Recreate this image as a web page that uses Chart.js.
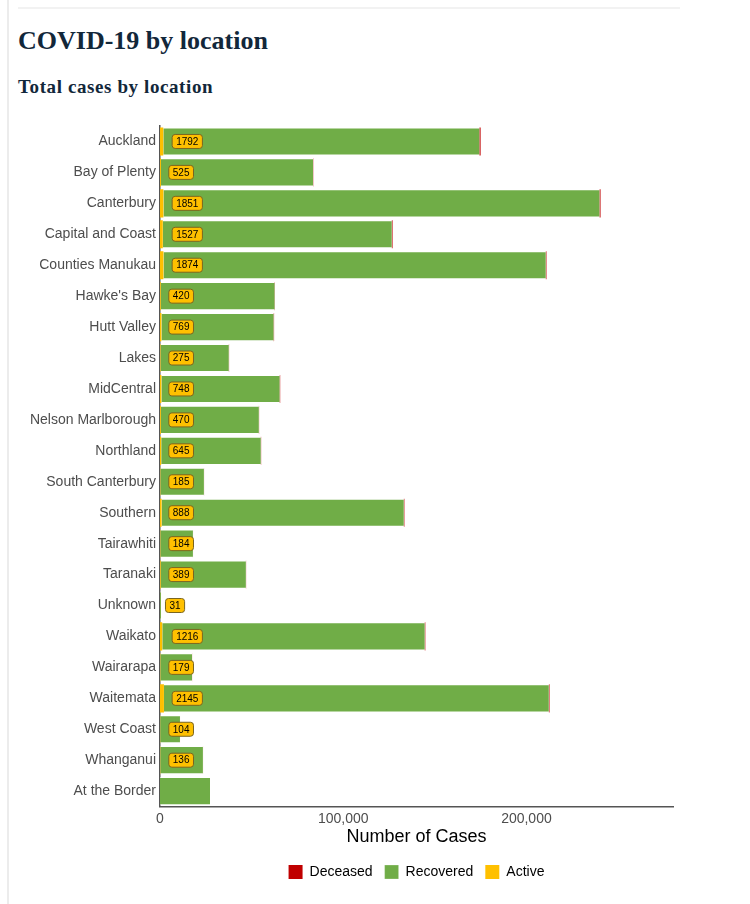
<!DOCTYPE html>
<html>
<head>
<meta charset="utf-8">
<script src="https://cdn.jsdelivr.net/npm/chart.js@4.4.1/dist/chart.umd.min.js"></script>
<style>
  html, body { margin: 0; padding: 0; background: #fff; }
  body { width: 750px; height: 904px; position: relative; overflow: hidden; }
  .frame { position: absolute; left: 7px; top: 0; width: 2px; height: 904px; background: #ececec; }
  .rule { position: absolute; left: 18px; top: 7px; width: 662px; height: 2px; background: #f2f2f2; }
  h1, h2 { position: absolute; left: 18px; margin: 0; font-family: "Liberation Serif", serif; font-weight: bold; color: #12273a; }
  h1 { top: 26px; font-size: 26px; }
  h2 { top: 76px; font-size: 19px; letter-spacing: 0.6px; }
  #wrap { position: absolute; left: 0; top: 108px; width: 700px; height: 796px; }
</style>
</head>
<body>
<div class="frame"></div>
<div class="rule"></div>
<h1>COVID-19 by location</h1>
<h2>Total cases by location</h2>
<div id="wrap"><canvas id="chart"></canvas></div>
<script>
// valores
const locations = ["Auckland", "Bay of Plenty", "Canterbury", "Capital and Coast", "Counties Manukau",
  "Hawke's Bay", "Hutt Valley", "Lakes", "MidCentral", "Nelson Marlborough", "Northland",
  "South Canterbury", "Southern", "Tairawhiti", "Taranaki", "Unknown", "Waikato", "Wairarapa",
  "Waitemata", "West Coast", "Whanganui", "At the Border"];
const active = [1792, 525, 1851, 1527, 1874, 420, 769, 275, 748, 470, 645, 185, 888, 184, 389, 31, 1216, 179, 2145, 104, 136, 0];
const recovered = [172600, 83000, 238100, 125000, 208700, 62200, 61300, 37300, 64600, 53500, 54400, 23800, 132200, 17800, 46500, 540, 143300, 17300, 210100, 10800, 23300, 27300];
const deceased = [600, 120, 500, 400, 350, 150, 200, 130, 250, 120, 150, 60, 300, 40, 100, 0, 300, 40, 350, 20, 50, 0];
const xTicks = [0, 100000, 200000];

const YELLOW = "#ffc000", GREEN = "#70ad47", RED = "#c00000";

const activeLabels = {
  id: "activeLabels",
  afterDatasetsDraw(chart) {
    const ctx = chart.ctx;
    const x = chart.scales.x, y = chart.scales.y;
    ctx.save();
    ctx.font = "10px 'Liberation Sans', Arial, sans-serif";
    ctx.textBaseline = "middle";
    active.forEach((v, i) => {
      if (!v) return;
      const txt = String(v);
      const w = ctx.measureText(txt).width + 8;
      const h = 14;
      const left = x.getPixelForValue(0) + 0.6 * (w - 10);
      const cy = y.getPixelForValue(i);
      ctx.beginPath();
      ctx.roundRect(left, cy - h / 2, w, h, 3);
      ctx.fillStyle = YELLOW;
      ctx.fill();
      ctx.lineWidth = 1;
      ctx.strokeStyle = "#7a6520";
      ctx.stroke();
      ctx.fillStyle = "#000";
      ctx.fillText(txt, left + 4, cy + 0.5);
    });
    ctx.restore();
  }
};

new Chart(document.getElementById("chart"), {
  type: "bar",
  data: {
    labels: locations,
    datasets: [
      { label: "Active", data: active, backgroundColor: YELLOW, borderWidth: 0 },
      { label: "Recovered", data: recovered, backgroundColor: GREEN, borderColor: "rgba(255,255,255,0.5)", borderWidth: { top: 1, bottom: 1, left: 0, right: 0 } },
      { label: "Deceased", data: deceased, backgroundColor: RED, borderWidth: 0 }
    ]
  },
  options: {
    indexAxis: "y",
    responsive: true,
    maintainAspectRatio: false,
    animation: false,
    datasets: { bar: { categoryPercentage: 0.91, barPercentage: 1 } },
    layout: { padding: { top: 18, right: 27, bottom: 15 } },
    scales: {
      x: {
        stacked: true,
        min: 0, max: 280000,
        afterBuildTicks(s) { s.ticks = xTicks.map(v => ({ value: v })); },
        grid: { display: false, drawTicks: true, tickLength: 3, tickColor: "#555" },
        border: { color: "#555", width: 1.5 },
        ticks: {
          color: "#4d4d4d",
          padding: 1,
          font: { family: "'Liberation Sans', Arial, sans-serif", size: 14 },
          callback: v => v.toLocaleString("en-US")
        },
        title: {
          display: true,
          text: "Number of Cases",
          color: "#000",
          padding: { top: -2, bottom: 5 },
          font: { family: "'Liberation Sans', Arial, sans-serif", size: 18 }
        }
      },
      y: {
        stacked: true,
        afterFit(s) { s.width = 160; },
        grid: { display: false, drawTicks: false },
        border: { color: "#555", width: 1.5 },
        ticks: {
          color: "#4d4d4d",
          padding: 4,
          autoSkip: false,
          font: { family: "'Liberation Sans', Arial, sans-serif", size: 14 }
        }
      }
    },
    plugins: {
      legend: {
        position: "bottom",
        fullSize: false,
        reverse: true,
        labels: {
          boxWidth: 14,
          boxHeight: 14,
          padding: 12,
          color: "#000",
          font: { family: "'Liberation Sans', Arial, sans-serif", size: 14 }
        }
      },
      tooltip: { enabled: false }
    }
  },
  plugins: [activeLabels]
});
</script>
</body>
</html>
